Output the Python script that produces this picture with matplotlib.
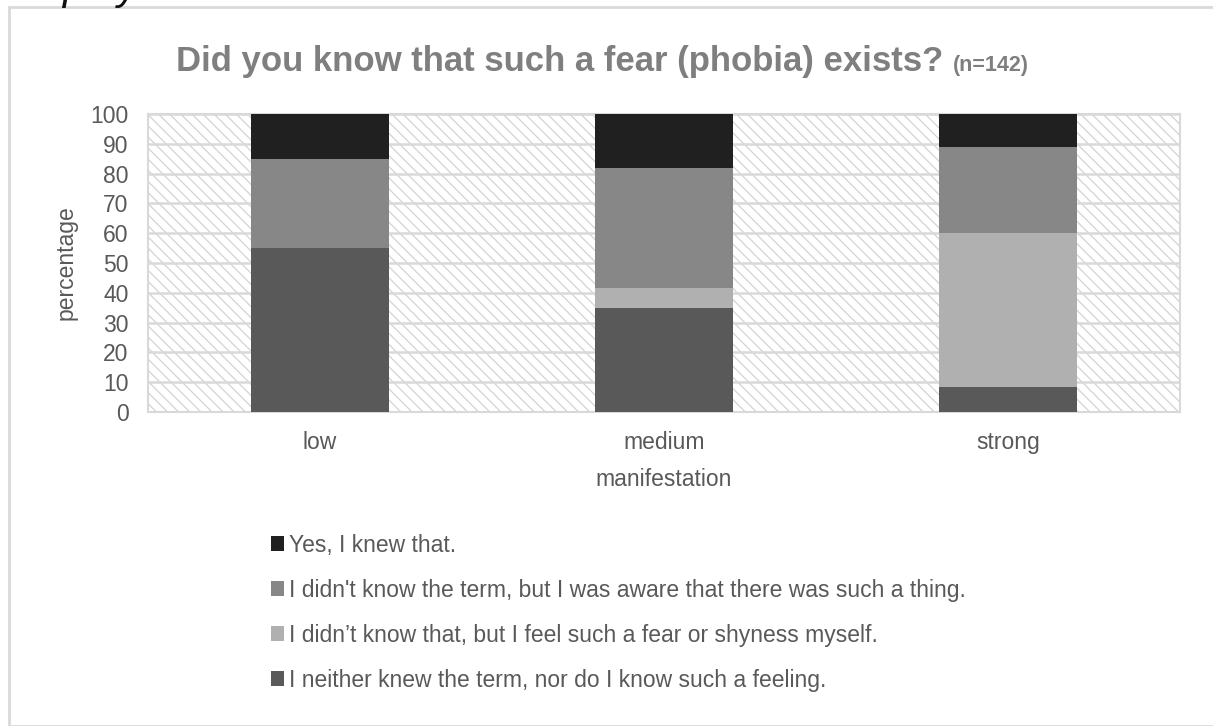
import matplotlib
matplotlib.use("Agg")
import matplotlib.pyplot as plt
from matplotlib.patches import Rectangle
from matplotlib import font_manager as fm
import numpy as np

categories = ["low", "medium", "strong"]
neither = [55, 35, 8.5]
feel_myself = [0, 6.5, 51.5]
aware = [30, 40.5, 29]
yes_knew = [15, 18, 11]

series_labels = [
    "I neither knew the term, nor do I know such a feeling.",
    "I didn\u2019t know that, but I feel such a fear or shyness myself.",
    "I didn't know the term, but I was aware that there was such a thing.",
    "Yes, I knew that.",
]
series_colors = ["#595959", "#b0b0b0", "#878787", "#202020"]
yticks = list(range(0, 101, 10))

names = {f.name for f in fm.fontManager.ttflist}
base_font = "Liberation Sans" if "Liberation Sans" in names else "DejaVu Sans"
title_font = "Liberation Sans Narrow" if "Liberation Sans Narrow" in names else base_font
plt.rcParams["font.family"] = [base_font, "DejaVu Sans"]
plt.rcParams["hatch.color"] = "#d3d3d3"
plt.rcParams["hatch.linewidth"] = 0.9

W, H = 1213, 726
fig = plt.figure(figsize=(W / 100, H / 100), dpi=100)

# outer chart border
fig.patches.append(Rectangle((9 / W, 0), 1.1, 1 - 7 / H, transform=fig.transFigure,
                             fill=False, edgecolor="#d9d9d9", linewidth=2, zorder=0))
# cut-off document text at top
fig.text(62 / W, 1 + 1 / H, "play", fontsize=30, fontstyle="italic",
         color="#111111", va="baseline", ha="left")

left, right = 148 / W, 1180 / W
bottom, top = 1 - 412 / H, 1 - 114 / H
ax = fig.add_axes([left, bottom, right - left, top - bottom])

bg = Rectangle((0, 0), 1, 1, transform=ax.transAxes, facecolor="white",
               edgecolor="#d3d3d3", hatch="\\\\\\", linewidth=0, zorder=0)
ax.add_patch(bg)

x = np.arange(len(categories))
series = [neither, feel_myself, aware, yes_knew]
bottoms = np.zeros(len(categories))
handles = []
for vals, lab, col in zip(series, series_labels, series_colors):
    b = ax.bar(x, vals, width=0.4, bottom=bottoms, color=col, label=lab,
               zorder=3, linewidth=0)
    handles.append(b)
    bottoms += np.array(vals)

ax.set_xlim(-0.5, 2.5)
ax.set_ylim(0, 100)
ax.set_yticks(yticks)
ax.set_yticklabels([str(t) for t in yticks])
ax.set_xticks(x)
ax.set_xticklabels(categories)
ax.grid(axis="y", color="#d9d9d9", linewidth=1.8, zorder=1)
ax.set_axisbelow(True)
for s in ax.spines.values():
    s.set_color("#d9d9d9")
    s.set_linewidth(1.5)
ax.tick_params(length=0, labelsize=16.5, colors="#595959")
ax.tick_params(axis="y", pad=14)
ax.tick_params(axis="x", pad=13.5)
ax.set_ylabel("percentage", fontsize=16.5, color="#595959", labelpad=9)
ax.set_xlabel("manifestation", fontsize=16.5, color="#595959", labelpad=10.5)

t1 = fig.text(0.5, 1 - 62 / H, "Did you know that such a fear (phobia) exists? ",
              fontsize=25, fontweight="bold", color="#7f7f7f", ha="right",
              va="center", family=[title_font, "DejaVu Sans"])
t2 = fig.text(0.5, 1 - 62 / H, "(n=142)", fontsize=15.5, fontweight="bold",
              color="#7f7f7f", ha="left", va="center",
              family=[title_font, "DejaVu Sans"])

# centre the two-part title
fig.canvas.draw()
r = fig.canvas.get_renderer()
w1 = t1.get_window_extent(r).width
w2 = t2.get_window_extent(r).width
cx = 602 - (w1 + w2) / 2 + w1
t1.set_position((cx / W, 1 - 62 / H))
t2.set_position((cx / W, 1 - 66 / H))

leg = fig.legend(handles=handles[::-1], labels=series_labels[::-1],
                 loc="upper left", bbox_to_anchor=(250 / W, 1 - 513 / H),
                 frameon=False, fontsize=16.5, labelcolor="#595959",
                 handlelength=0.6, handleheight=0.6, handletextpad=0.2,
                 labelspacing=0.96)

fig.savefig("out.png", dpi=100)
